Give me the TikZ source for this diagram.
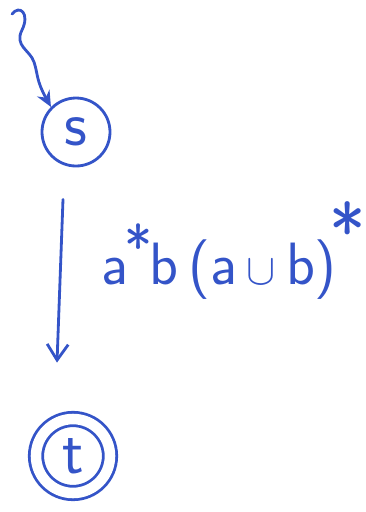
\documentclass[tikz,border=0pt]{standalone}
\usetikzlibrary{arrows.meta,calc}
\definecolor{pen}{HTML}{3454C8}
\begin{document}
\begin{tikzpicture}[x=0.02cm,y=-0.02cm,
  pen/.style={draw=pen,line width=1.6pt,line cap=round,line join=round},
  state/.style={circle,pen,minimum size=68*0.02cm,inner sep=0pt,text=pen,font=\fontsize{36}{38}\selectfont\sffamily},
  accepting/.style={double,double distance=6pt,minimum size=74*0.02cm},
  lbl/.style={text=pen,font=\fontsize{34}{36}\selectfont\sffamily}]
\useasboundingbox (0,0) rectangle (366,512);
\node[state] (s) at (76,132) {s};
\node[state,accepting] (t) at (73,456) {t};
\coordinate (start) at (12,14);
\draw[pen,-{Stealth[length=9pt,width=8pt]}] (start) .. controls (20,4) and (30,14) .. (22,30)
  .. controls (14,46) and (30,50) .. (34,62)
  .. controls (38,74) and (36,80) .. (s.north west);
\draw[pen,-{Straight Barb[length=9pt,width=12pt]}] ($(s.south)+(-13,32)$) -- ($(t.north)+(-16,-55)$);
\node[lbl,anchor=base west,inner sep=0pt] (l) at (101,284) {a\kern-2pt\raisebox{9pt}{\fontsize{34}{34}\selectfont *}\kern-2pt b\,(a\,$\cup$\,b)\kern-4pt\raisebox{14pt}{\fontsize{44}{44}\selectfont *}};
\end{tikzpicture}
\end{document}
